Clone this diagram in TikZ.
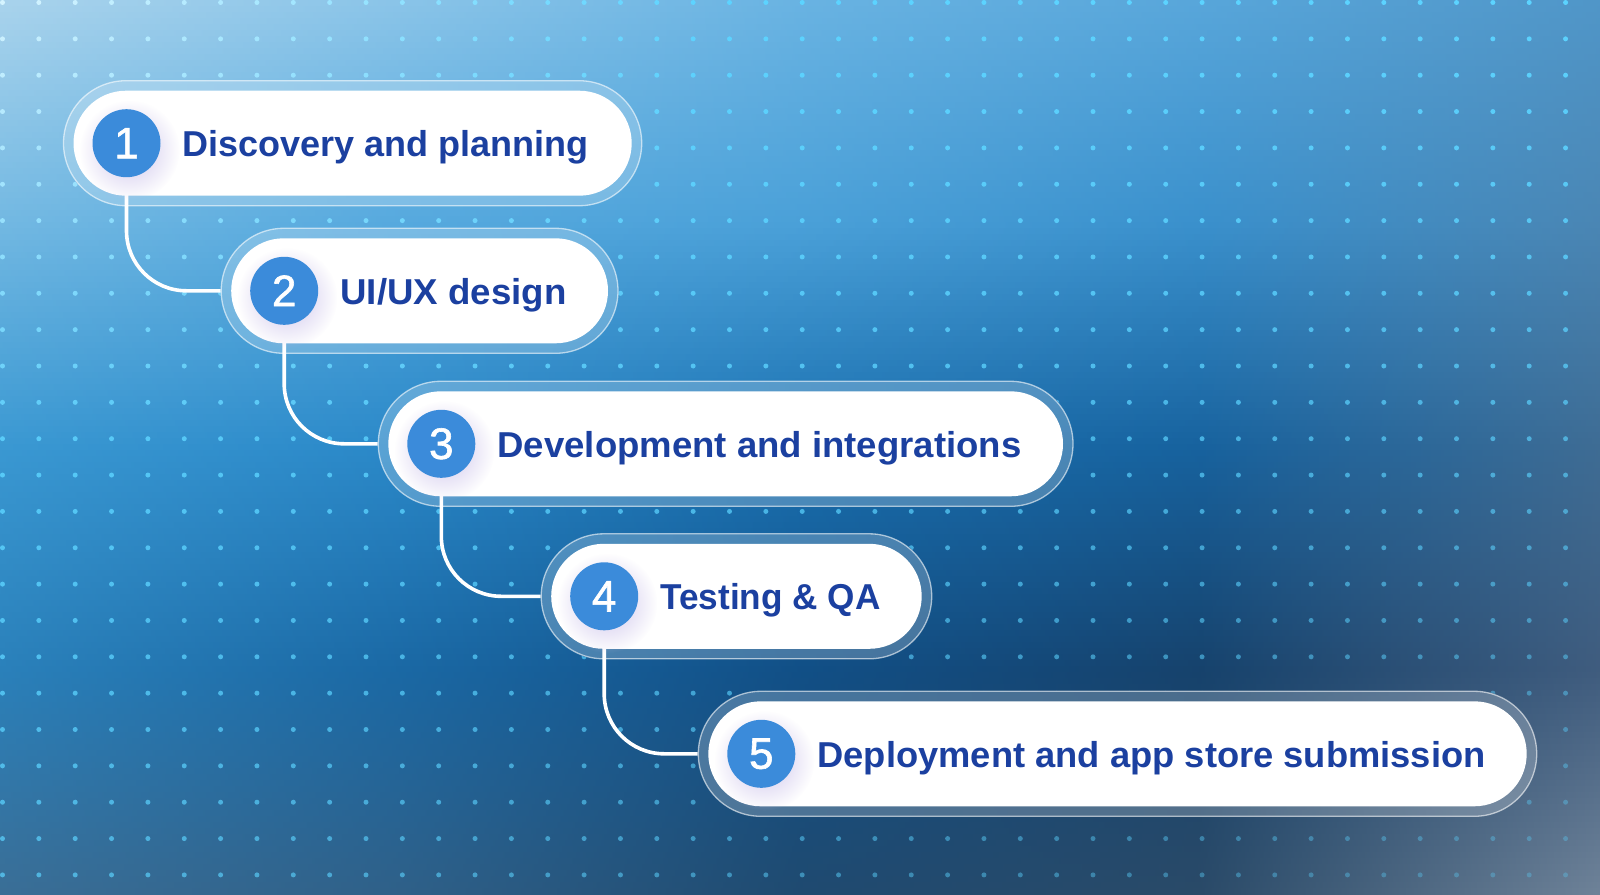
\documentclass[tikz,border=0pt]{standalone}
\usepackage{fontspec}
\setmainfont{Liberation Sans}
\newfontfamily\numfont{Liberation Sans}[FakeBold=1.4]
\usetikzlibrary{shapes.misc,fadings}
\pgfdeclarelayer{bg}
\pgfdeclarelayer{mid}
\pgfsetlayers{bg,mid,main}
\definecolor{numblue}{HTML}{3B8BDA}
\definecolor{txtblue}{HTML}{1B40A0}
\definecolor{glowc}{HTML}{C9BFEA}
\definecolor{dotc}{HTML}{5CD3FF}
% background control grid: rows y=0,223.5,447,670.5,894 ; cols x=0,400,800,1200,1600
\definecolor{g00}{HTML}{A9D3EC}\definecolor{g01}{HTML}{8AC4E8}\definecolor{g02}{HTML}{69B3E2}\definecolor{g03}{HTML}{58A6DA}\definecolor{g04}{HTML}{5096C8}
\definecolor{g10}{HTML}{72B8E2}\definecolor{g11}{HTML}{56A9DE}\definecolor{g12}{HTML}{4AA0D8}\definecolor{g13}{HTML}{3A90CC}\definecolor{g14}{HTML}{4A86B4}
\definecolor{g20}{HTML}{3A98D2}\definecolor{g21}{HTML}{2A88C8}\definecolor{g22}{HTML}{1A70B0}\definecolor{g23}{HTML}{17629E}\definecolor{g24}{HTML}{3E6C94}
\definecolor{g30}{HTML}{2A80BA}\definecolor{g31}{HTML}{1A68A4}\definecolor{g32}{HTML}{114F86}\definecolor{g33}{HTML}{16426C}\definecolor{g34}{HTML}{3F5C7E}
\definecolor{g40}{HTML}{3A6E96}\definecolor{g41}{HTML}{2F6088}\definecolor{g42}{HTML}{1F4A70}\definecolor{g43}{HTML}{2A4A68}\definecolor{g44}{HTML}{6E8298}
\tikzfading[name=glowfade, inner color=transparent!5, outer color=transparent!100]
% #1 index, #2 cx, #3 cy, #4 inner right edge, #5 label width, #6 label
\newcommand\stage[6]{%
  \pgfmathsetmacro\pxl{#2-53}%
  \pgfmathsetmacro\pxw{#4-\pxl}%
  \pgfmathsetmacro\pxm{(\pxl+#4)/2}%
  \pgfmathsetmacro\pxr{\pxw+20}%
  \node[ringst, minimum width=\pxr pt] (r#1) at (\pxm,#3) {};
  \node[pillst, minimum width=\pxw pt] (p#1) at (\pxm,#3) {};
  \fill[glowc, path fading=glowfade] (#2+3,#3+7) circle (50pt);
  \node[numst] (c#1) at (#2,#3) {#1};
  \node[labst] (t#1) at (#2+56,#3+13.5) {\resizebox{#5pt}{\height}{#6}};
}
\begin{document}
\begin{tikzpicture}[x=1pt,y=-1pt,
  ringst/.style={rounded rectangle, minimum height=125pt, inner sep=0pt, fill=white, fill opacity=0.22, draw=white, draw opacity=0.6, line width=1.3pt},
  pillst/.style={rounded rectangle, minimum height=105pt, inner sep=0pt, fill=white},
  numst/.style={circle, minimum size=68pt, inner sep=0pt, fill=numblue, text=white, font=\numfont\fontsize{44}{48}\selectfont},
  labst/.style={anchor=base west, inner sep=0pt, text=txtblue, font=\bfseries\fontsize{36}{40}\selectfont},
  connst/.style={draw=white, line width=3.6pt, rounded corners=60pt}]
\useasboundingbox (0,0) rectangle (1600,894);

\stage{1}{126.5}{143.2}{631.7}{406}{Discovery and planning}
\stage{2}{284.2}{290.8}{608}{226}{UI/UX design}
\stage{3}{441.3}{443.8}{1063}{524}{Development and integrations}
\stage{4}{604.2}{596.3}{921.7}{220}{Testing \& QA}
\stage{5}{761.3}{753.8}{1526.7}{668}{Deployment and app store submission}

\begin{pgfonlayer}{mid}
  \draw[connst] (c1.south) |- (r2.west);
  \draw[connst] (c2.south) |- (r3.west);
  \draw[connst] (c3.south) |- (r4.west);
  \draw[connst] (c4.south) |- (r5.west);
\end{pgfonlayer}

\begin{pgfonlayer}{bg}
  \foreach \k in {0,...,148} {
    \pgfmathsetmacro\ya{\k*6}
    \pgfmathsetmacro\yb{\k*6+6.6}
    \pgfmathsetmacro\ym{\k*6+3}
    \pgfmathtruncatemacro\ra{min(3,floor(\ym/223.5))}
    \pgfmathtruncatemacro\rb{\ra+1}
    \pgfmathsetmacro\fr{(\ym-\ra*223.5)/223.5*100}
    \colorlet{s0}{g\rb0!\fr!g\ra0}
    \colorlet{s1}{g\rb1!\fr!g\ra1}
    \colorlet{s2}{g\rb2!\fr!g\ra2}
    \colorlet{s3}{g\rb3!\fr!g\ra3}
    \colorlet{s4}{g\rb4!\fr!g\ra4}
    \shade[left color=s0, right color=s1] (0,\ya) rectangle (400.6,\yb);
    \shade[left color=s1, right color=s2] (400,\ya) rectangle (800.6,\yb);
    \shade[left color=s2, right color=s3] (800,\ya) rectangle (1200.6,\yb);
    \shade[left color=s3, right color=s4] (1200,\ya) rectangle (1600,\yb);
  }
  \begin{scope}
    \clip (0,0) rectangle (1600,894)
      [rounded corners=62pt]
      (r1.west |- r1.south) rectangle (r1.east |- r1.north)
      (r2.west |- r2.south) rectangle (r2.east |- r2.north)
      (r3.west |- r3.south) rectangle (r3.east |- r3.north)
      (r4.west |- r4.south) rectangle (r4.east |- r4.north)
      (r5.west |- r5.south) rectangle (r5.east |- r5.north);
    \foreach \i in {0,...,43} {
      \foreach \j in {0,...,24} {
        \pgfmathsetmacro\xx{2.5+36.35*\i}
        \pgfmathsetmacro\yy{2.5+36.35*\j}
        \pgfmathsetmacro\op{1-0.3*\yy/894-0.42*\xx/1600*\yy/894}
        \pgfmathsetmacro\wh{75*max(0,1-\xx/700)*max(0,1-\yy/450)}
        \fill[fill=white!\wh!dotc, fill opacity=\op] (\xx,\yy) circle (2.5pt);
      }
    }
  \end{scope}
\end{pgfonlayer}
\end{tikzpicture}
\end{document}
